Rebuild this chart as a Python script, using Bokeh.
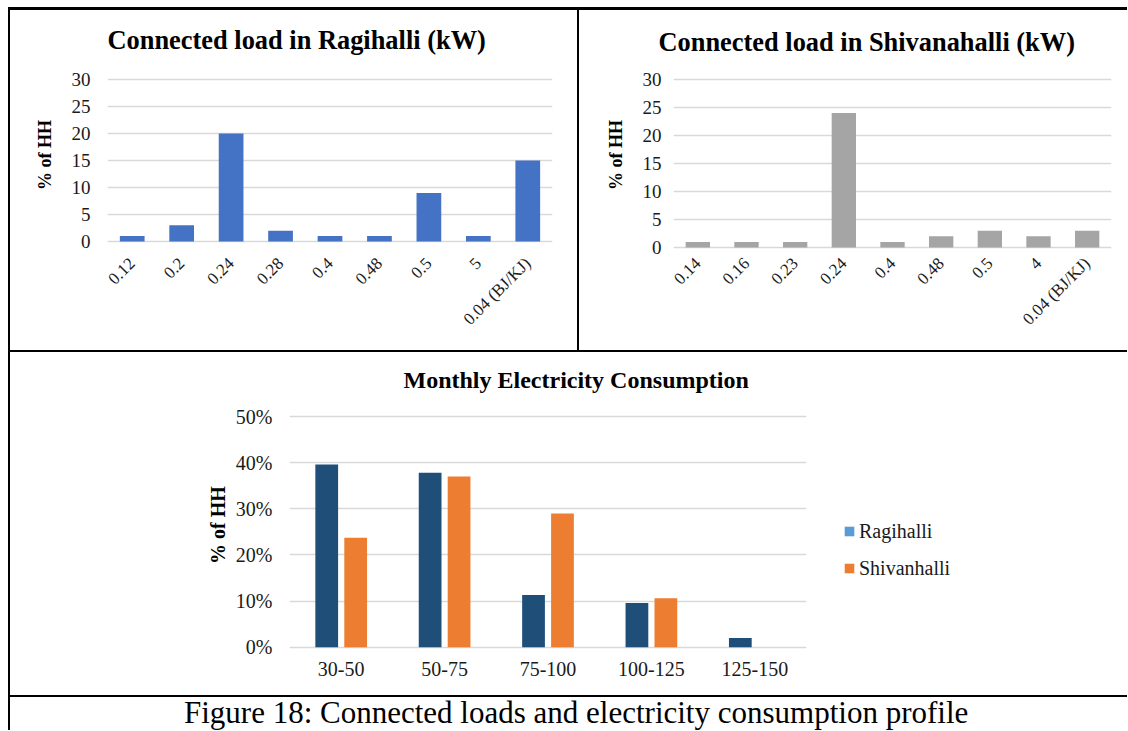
from math import pi
from bokeh.plotting import figure
from bokeh.models import (FactorRange, Range1d, FixedTicker, NumeralTickFormatter,
                          Legend, LegendItem, Div, ColumnDataSource)
from bokeh.layouts import row, column
from bokeh.transform import dodge
from bokeh.embed import file_html
from bokeh.resources import INLINE

# ---------------- data ----------------
rag_loads = ["0.12", "0.2", "0.24", "0.28", "0.4", "0.48", "0.5", "5", "0.04 (BJ/KJ)"]
rag_pct = [1, 3, 20, 2, 1, 1, 9, 1, 15]

shiv_loads = ["0.14", "0.16", "0.23", "0.24", "0.4", "0.48", "0.5", "4", "0.04 (BJ/KJ)"]
shiv_pct = [1, 1, 1, 24, 1, 2, 3, 2, 3]

cons_bins = ["30-50", "50-75", "75-100", "100-125", "125-150"]
cons_rag = [0.396, 0.378, 0.113, 0.096, 0.020]
cons_shiv = [0.237, 0.370, 0.290, 0.106, 0.0]

load_ticks = [0, 5, 10, 15, 20, 25, 30]
cons_ticks = [0, 0.1, 0.2, 0.3, 0.4, 0.5]

SERIF = "Liberation Serif"
TXT = "#1a1a1a"
GRID = "#d9d9d9"


def style(p, xsize, ysize, ylabel, ylabel_size, ystandoff, label_standoff, xstandoff,
          title_size, title_offset, title_standoff):
    p.background_fill_color = "white"
    p.border_fill_color = "white"
    p.outline_line_color = None
    p.xgrid.grid_line_color = None
    p.ygrid.grid_line_color = GRID
    p.ygrid.grid_line_width = 1.6
    for ax in (p.xaxis[0], p.yaxis[0]):
        ax.axis_line_color = None
        ax.major_tick_line_color = None
        ax.minor_tick_line_color = None
        ax.major_tick_out = 0
        ax.major_tick_in = 0
        ax.minor_tick_out = 0
        ax.minor_tick_in = 0
        ax.major_label_text_font = SERIF
        ax.major_label_text_color = TXT
    p.xaxis.major_label_text_font_size = xsize
    p.yaxis.major_label_text_font_size = ysize
    p.xaxis.major_label_standoff = xstandoff
    p.yaxis.major_label_standoff = label_standoff
    p.yaxis.axis_label = ylabel
    p.yaxis.axis_label_text_font = SERIF
    p.yaxis.axis_label_text_font_size = ylabel_size
    p.yaxis.axis_label_text_font_style = "bold"
    p.yaxis.axis_label_text_color = "black"
    p.yaxis.axis_label_standoff = ystandoff
    p.title.text_font = SERIF
    p.title.text_font_style = "bold"
    p.title.text_color = "black"
    p.title.align = "left"
    p.title.text_font_size = title_size
    p.title.offset = title_offset
    p.title.standoff = title_standoff


# ---------------- Ragihalli ----------------
p1 = figure(width=567, height=340, title="Connected load in Ragihalli (kW)",
            x_range=FactorRange(factors=rag_loads), y_range=Range1d(-1.48, 33.52),
            output_backend="svg", toolbar_location=None,
            min_border_left=97, min_border_right=25, min_border_top=50, min_border_bottom=101)
p1.vbar(x="cat", top="val", width=0.5, fill_color="#4472C4", line_color=None,
        source=ColumnDataSource(dict(cat=rag_loads, val=rag_pct)))
style(p1, "17px", "19px", "% of HH", "18px", 14, 17, 11, "26.4px", 0, 11)
p1.yaxis.ticker = FixedTicker(ticks=load_ticks)
p1.xaxis.major_label_orientation = pi / 4

# ---------------- Shivanahalli ----------------
p2 = figure(width=548, height=340, title="Connected load in Shivanahalli (kW)",
            x_range=FactorRange(factors=shiv_loads), y_range=Range1d(-0.357, 33.39),
            output_backend="svg", toolbar_location=None,
            min_border_left=94, min_border_right=16, min_border_top=50, min_border_bottom=101)
p2.vbar(x="cat", top="val", width=0.5, fill_color="#A5A5A5", line_color=None,
        source=ColumnDataSource(dict(cat=shiv_loads, val=shiv_pct)))
style(p2, "17px", "19px", "% of HH", "18px", 14, 12, 11, "26.4px", -15, 8)
p2.yaxis.ticker = FixedTicker(ticks=load_ticks)
p2.xaxis.major_label_orientation = pi / 4

# ---------------- Monthly consumption ----------------
p3 = figure(width=800, height=343, title="Monthly Electricity Consumption",
            x_range=FactorRange(factors=cons_bins), y_range=Range1d(-0.005, 0.5347),
            output_backend="svg", toolbar_location=None,
            min_border_left=279, min_border_right=4, min_border_top=48, min_border_bottom=46)
src3 = ColumnDataSource(dict(cat=cons_bins, rag=cons_rag, shiv=cons_shiv))
p3.vbar(x=dodge("cat", -0.14, range=p3.x_range), top="rag", width=0.22,
        fill_color="#1F4E79", line_color=None, source=src3)
p3.vbar(x=dodge("cat", 0.14, range=p3.x_range), top="shiv", width=0.22,
        fill_color="#ED7D31", line_color=None, source=src3)
style(p3, "20px", "20px", "% of HH", "20px", 4, 17, 12, "24px", 114, 15)
p3.yaxis.ticker = FixedTicker(ticks=cons_ticks)
p3.yaxis.formatter = NumeralTickFormatter(format="0%")

# legend panel: a bare figure to the right of the chart, holding the legend
pL = figure(width=317, height=343, x_range=FactorRange(factors=cons_bins),
            y_range=Range1d(0, 0.5), x_axis_type=None, y_axis_type=None,
            output_backend="svg", toolbar_location=None,
            min_border_left=0, min_border_right=0, min_border_top=48, min_border_bottom=46)
pL.background_fill_color = "white"
pL.border_fill_color = "white"
pL.outline_line_color = None
pL.grid.visible = False
src_l = ColumnDataSource(dict(cat=cons_bins, rag=cons_rag, shiv=cons_shiv))
# zero-width proxies: only their swatch colours show in the legend (as in the original)
lg_rag = pL.vbar(x="cat", top="rag", width=0, fill_color="#5B9BD5", line_color=None, source=src_l)
lg_shiv = pL.vbar(x="cat", top="shiv", width=0, fill_color="#ED7D31", line_color=None, source=src_l)
legend = Legend(items=[LegendItem(label="Ragihalli", renderers=[lg_rag]),
                       LegendItem(label="Shivanhalli", renderers=[lg_shiv])],
                location=(33, 69), glyph_width=12, glyph_height=12, label_height=24,
                label_standoff=4, spacing=13, padding=0, margin=0,
                border_line_color=None, background_fill_alpha=0,
                label_text_font=SERIF, label_text_font_size="20px", label_text_color=TXT)
pL.add_layout(legend)

# ---------------- frame lines & caption ----------------
BLACK = {"background-color": "black"}
top_space = Div(text="", width=1127, height=7, margin=0)
left_space = Div(text="", width=8, height=723, margin=0)
left_line = Div(text="", width=2, height=723, margin=0, styles=BLACK)
top_line = Div(text="", width=1117, height=3, margin=0, styles=BLACK)
mid_vline = Div(text="", width=2, height=340, margin=0, styles=BLACK)
hline1 = Div(text="", width=1117, height=2, margin=0, styles=BLACK)
hline2 = Div(text="", width=1117, height=2, margin=0, styles=BLACK)
caption = Div(text=('<div style="font-family:\'Liberation Serif\'; font-size:31px; '
                    'line-height:31px; white-space:nowrap; padding-left:174px; color:black;">'
                    'Figure 18: Connected loads and electricity consumption profile</div>'),
              width=1117, height=33, margin=0)

layout = column(top_space,
                row(left_space, left_line,
                    column(top_line, row(p1, mid_vline, p2), hline1, row(p3, pL),
                           hline2, caption)))

open("out.html", "w").write(file_html(layout, INLINE))
